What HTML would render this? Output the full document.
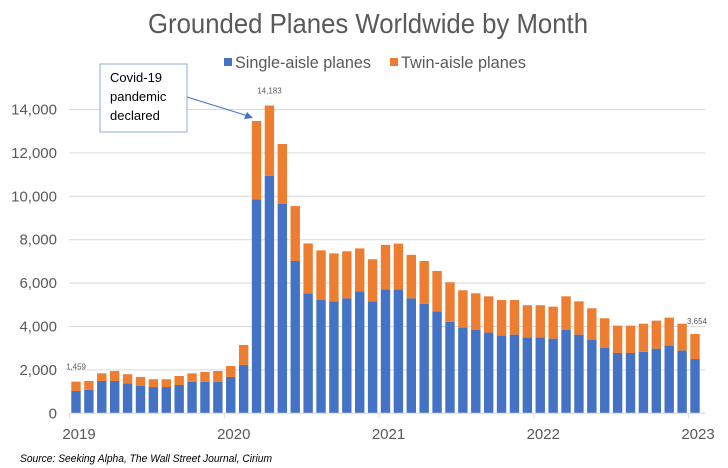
<!DOCTYPE html>
<html><head><meta charset="utf-8"><style>
body{margin:0;background:#fff;}
svg{display:block;font-family:"Liberation Sans Narrow","Liberation Sans",sans-serif;}
</style></head><body>
<svg id="chart" width="728" height="468" viewBox="0 0 728 468">
<text x="368" y="33" text-anchor="middle" font-size="28" fill="#595959" textLength="440" lengthAdjust="spacingAndGlyphs">Grounded Planes Worldwide by Month</text>
<g>
<rect x="224" y="58" width="8" height="8" fill="#4472c4"/>
<text x="235" y="68" font-size="17" fill="#595959" textLength="136" lengthAdjust="spacingAndGlyphs">Single-aisle planes</text>
<rect x="390" y="58" width="8" height="8" fill="#ed7d31"/>
<text x="401" y="68" font-size="17" fill="#595959" textLength="125" lengthAdjust="spacingAndGlyphs">Twin-aisle planes</text>
</g>
<g id="grid"></g>
<g id="bars"></g>
<g id="axes"></g>
<g>
<rect x="100" y="64" width="87" height="68" fill="#fff" stroke="#8faadc" stroke-width="1"/>
<text font-family="Liberation Sans, sans-serif" font-size="13" fill="#000"><tspan x="110" y="82">Covid-19</tspan><tspan x="110" y="101">pandemic</tspan><tspan x="110" y="120">declared</tspan></text>
<line x1="187" y1="97" x2="248" y2="116" stroke="#4472c4" stroke-width="1"/>
<polygon points="253,118 244,119 247,112" fill="#4472c4"/>
</g>
<text x="20" y="462" font-family="Liberation Sans, sans-serif" font-style="italic" font-size="11" fill="#000" textLength="252" lengthAdjust="spacingAndGlyphs">Source:  Seeking Alpha, The Wall Street Journal, Cirium</text>
</svg>
<script>
const single=[1030,1075,1490,1490,1380,1260,1210,1210,1305,1445,1445,1445,1675,2230,9850,10950,9660,7020,5530,5220,5160,5300,5620,5160,5715,5715,5300,5050,4700,4220,3950,3855,3720,3580,3625,3490,3490,3440,3855,3625,3395,3025,2780,2780,2830,2980,3120,2890,2500];
const total=[1459,1490,1840,1950,1800,1675,1570,1570,1720,1840,1905,1950,2180,3150,13470,14183,12410,9550,7830,7510,7370,7465,7600,7100,7760,7820,7300,7020,6560,6040,5670,5530,5390,5220,5220,4980,4980,4915,5390,5160,4840,4380,4040,4040,4130,4270,4410,4130,3654];
const yTicks=[0,2000,4000,6000,8000,10000,12000,14000];
const yearLabels=["2019","2020","2021","2022","2023"];
const labeledIdx=[0,15,48];
const NS="http://www.w3.org/2000/svg";
const x0=76,dx=(695-76)/48,bw=9.4,yBase=413.3,pxPer=43.4/2000;
function X(i){return x0+i*dx;}
function Y(v){return yBase-v*pxPer;}
function mk(tag,attrs,parent){const e=document.createElementNS(NS,tag);for(const k in attrs)e.setAttribute(k,attrs[k]);parent.appendChild(e);return e;}
const grid=document.getElementById('grid'),bars=document.getElementById('bars'),axes=document.getElementById('axes');
yTicks.forEach(v=>{
 if(v>0){const l=mk('line',{x1:69,x2:705,y1:Y(v),y2:Y(v),stroke:'#d9d9d9','stroke-width':1},grid);
 
 }
 const t=mk('text',{x:57,y:Y(v)+5,'text-anchor':'end','font-size':15,fill:'#595959'},axes);
 t.textContent=v.toLocaleString('en-US');
 
 
});
single.forEach((s,i)=>{
 const b=mk('rect',{x:X(i)-bw/2,y:Y(s),width:bw,height:yBase-Y(s),fill:'#4472c4'},bars);
 
 
 const o=mk('rect',{x:X(i)-bw/2,y:Y(total[i]),width:bw,height:Y(s)-Y(total[i]),fill:'#ed7d31'},bars);
 
 
});
labeledIdx.forEach(i=>{
 const t=mk('text',{x:X(i)+(i===48?2:0),y:Y(total[i])-(i===48?10:12),'text-anchor':'middle','font-size':8,fill:'#595959','font-family':'Liberation Sans, sans-serif'},bars);
 t.textContent=total[i].toLocaleString('en-US');
 
 
});
const ax=mk('line',{x1:69,x2:705,y1:yBase,y2:yBase,stroke:'#d9d9d9','stroke-width':1},axes);


yearLabels.forEach((lab,k)=>{
 const tk=mk('line',{x1:X(k*12)-dx/2,x2:X(k*12)-dx/2,y1:yBase,y2:yBase+5,stroke:'#d9d9d9'},axes);
 
 
 const t=mk('text',{x:X(k*12)+3,y:439,'text-anchor':'middle','font-size':15,fill:'#595959'},axes);
 t.textContent=lab;
 
 
});
</script>
</body></html>
